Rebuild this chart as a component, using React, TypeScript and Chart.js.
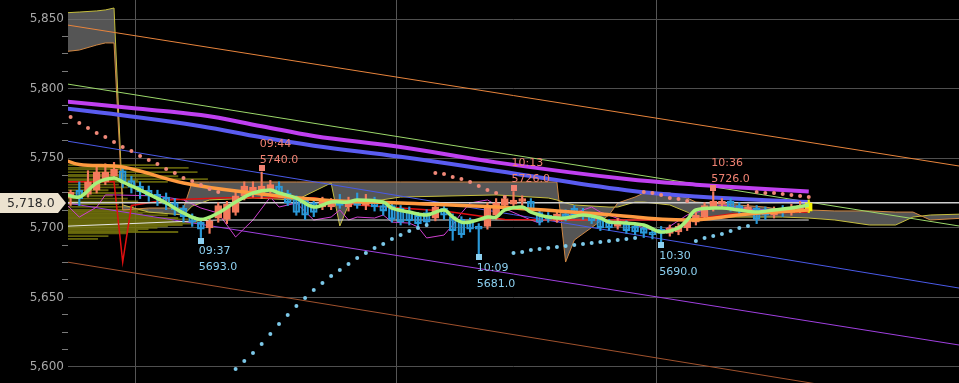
import React, { useEffect, useRef } from 'react';
import { Chart, registerables } from 'chart.js';

Chart.register(...registerables);

// ---------- DATA ----------
const candleTimes = [
  '09:22','09:23','09:24','09:25','09:26','09:27','09:28','09:29','09:30','09:31',
  '09:32','09:33','09:34','09:35','09:36','09:37','09:38','09:39','09:40','09:41',
  '09:42','09:43','09:44','09:45','09:46','09:47','09:48','09:49','09:50','09:51',
  '09:52','09:53','09:54','09:55','09:56','09:57','09:58','09:59','10:00','10:01',
  '10:02','10:03','10:04','10:05','10:06','10:07','10:08','10:09','10:10','10:11',
  '10:12','10:13','10:14','10:15','10:16','10:17','10:18','10:19','10:20','10:21',
  '10:22','10:23','10:24','10:25','10:26','10:27','10:28','10:29','10:30','10:31',
  '10:32','10:33','10:34','10:35','10:36','10:37','10:38','10:39','10:40','10:41',
  '10:42','10:43','10:44','10:45','10:46','10:47',
];
const opens = [
  5721.5, 5727, 5724, 5727, 5733, 5737, 5741, 5734, 5730, 5727,
  5724, 5722, 5718, 5714, 5708, 5704, 5700, 5707, 5706, 5711,
  5723, 5725, 5724, 5727, 5730, 5725, 5721, 5720, 5718, 5715,
  5715, 5719, 5715, 5719, 5716, 5720, 5716, 5716, 5714, 5712,
  5709, 5711, 5707, 5714, 5708, 5706, 5705, 5701, 5701, 5709,
  5716, 5717, 5719, 5719, 5711, 5709, 5706, 5710, 5714, 5710,
  5709, 5706, 5704, 5701, 5703, 5701, 5700, 5697, 5699, 5696,
  5697, 5700, 5704, 5708, 5714, 5717, 5719, 5716, 5712, 5714,
  5713, 5709, 5713, 5711, 5713, 5712,
];
const highs = [
  5727, 5733, 5741, 5744, 5746, 5747, 5744, 5737, 5733, 5730,
  5727, 5725, 5721, 5716, 5710, 5707, 5707, 5718, 5719, 5726,
  5733, 5733, 5740, 5734, 5733, 5727, 5723, 5722, 5720, 5722,
  5721, 5724, 5722, 5725, 5724, 5722, 5719, 5718, 5716, 5715,
  5711, 5713, 5717, 5716, 5710, 5708, 5707, 5703, 5718, 5721,
  5723, 5726, 5723, 5721, 5713, 5711, 5712, 5713, 5716, 5714,
  5711, 5708, 5706, 5707, 5705, 5703, 5702, 5700, 5701, 5702,
  5703, 5707, 5711, 5718, 5726, 5721, 5721, 5718, 5717, 5716,
  5715, 5715, 5716, 5717, 5719, 5720,
];
const lows = [
  5716, 5716, 5722, 5725, 5731, 5735, 5729, 5725, 5721, 5719,
  5716, 5713, 5709, 5704, 5701, 5693, 5696, 5704, 5703, 5709,
  5720, 5722, 5721, 5725, 5722, 5716, 5709, 5706, 5708, 5713,
  5713, 5714, 5712, 5714, 5713, 5712, 5709, 5704, 5702, 5702,
  5700, 5701, 5705, 5706, 5691, 5693, 5697, 5681, 5699, 5706,
  5714, 5715, 5716, 5711, 5702, 5704, 5704, 5705, 5707, 5706,
  5703, 5698, 5698, 5699, 5696, 5695, 5693, 5692, 5690, 5694,
  5695, 5698, 5702, 5706, 5712, 5714, 5712, 5710, 5710, 5703,
  5706, 5707, 5708, 5709, 5711, 5711,
];
const closes = [
  5725.5, 5721, 5733, 5740, 5740, 5742, 5733, 5729, 5726, 5723,
  5721, 5717, 5713, 5708, 5704, 5699, 5705, 5716, 5717, 5723,
  5730, 5729, 5730, 5731, 5724, 5718, 5711, 5709, 5711, 5720,
  5720, 5716, 5719, 5716, 5720, 5715, 5712, 5706, 5704, 5705,
  5703, 5704, 5715, 5709, 5698, 5695, 5699, 5699, 5716, 5718,
  5721, 5720, 5721, 5713, 5704, 5706, 5710, 5708, 5709, 5709,
  5705, 5700, 5700, 5705, 5698, 5697, 5696, 5695, 5696, 5700,
  5701, 5705, 5709, 5716, 5719, 5719, 5714, 5712, 5715, 5706,
  5709, 5713, 5711, 5714, 5716, 5718,
];
// Parabolic SAR, one value per candle
const sarValues = [
  5779.6, 5775.3, 5771.7, 5768.1, 5765.2, 5761.6, 5758.0, 5755.2, 5751.6, 5748.7,
  5745.8, 5742.2, 5739.4, 5735.8, 5733.6, 5730.7, 5727.9, 5725.7, null, 5598.6,
  5604.3, 5610.0, 5616.5, 5623.7, 5630.9, 5637.3, 5643.8, 5649.6, 5655.3, 5660.3,
  5665.4, 5669.7, 5674.0, 5678.3, 5681.9, 5685.5, 5688.4, 5692.0, 5694.8, 5697.7,
  5699.9, 5702.0, 5739.4, 5738.7, 5736.5, 5735.1, 5732.9, 5730.0, 5727.2, 5725.0,
  5722.1, 5681.9, 5682.6, 5684.0, 5684.8, 5685.5, 5686.2, 5686.9, 5687.6, 5688.4,
  5689.1, 5689.8, 5690.5, 5691.2, 5692.0, 5692.7, 5725.7, 5725.0, 5723.6, 5721.4,
  5720.7, 5719.3, 5690.5, 5692.7, 5694.1, 5695.5, 5697.7, 5699.9, 5701.3, 5725.7,
  5725.0, 5725.0, 5724.3, 5723.6, 5722.9, 5722.1,
];

const longMaTimes = ['09:21','09:29','09:37','09:44','09:50','10:00','10:11','10:26','10:34','10:47'];
const magentaMa = [5791, 5786, 5781, 5773, 5766, 5758, 5747, 5735, 5731, 5726];
const blueMa = [5786, 5780, 5773, 5765, 5759, 5751, 5741, 5727, 5722.5, 5718.5];

const orangeMaTimes = ['09:21','09:23','09:28','09:35','09:43','09:51','10:00','10:11','10:23','10:33','10:40','10:47'];
const orangeMa = [5749.5, 5745.5, 5743.7, 5732.2, 5725, 5720, 5717.8, 5714.9, 5709.9, 5705.6, 5709.9, 5712.8];

const greenMaTimes = [
  '09:21','09:23','09:25','09:27','09:28','09:30','09:33','09:35','09:37','09:39',
  '09:41','09:43','09:45','09:46','09:48','09:50','09:52','09:54','09:55','09:58',
  '09:59','10:01','10:03','10:05','10:06','10:07','10:08','10:10','10:11','10:12',
  '10:14','10:15','10:17','10:19','10:21','10:23','10:24','10:26','10:28','10:30',
  '10:32','10:33','10:34','10:37','10:39','10:41','10:43','10:45','10:47',
];
const greenMa = [
  5725, 5722.1, 5732.2, 5735.8, 5732.9, 5727.2, 5717.8, 5710.6, 5706, 5710.6,
  5718.5, 5725, 5727.2, 5725, 5721.4, 5714.9, 5718.5, 5718.5, 5720, 5718.5,
  5714.2, 5711.3, 5709.2, 5712.8, 5707.7, 5704.1, 5704.1, 5707.7, 5707.7, 5712.8,
  5714.9, 5711.3, 5707.7, 5707, 5709.2, 5707, 5704.1, 5703.4, 5702, 5697,
  5699.9, 5705.6, 5712.8, 5714.2, 5712.8, 5711.3, 5712.8, 5714.2, 5716.4,
];

const redTimes = ['09:21','09:27','09:28','09:29','09:33','09:40','09:50','09:55','10:05','10:12','10:20','10:33','10:38','10:47'];
const redValues = [5733, 5733, 5675.4, 5716, 5720, 5721.5, 5721.5, 5716.4, 5712, 5706, 5705.6, 5705.6, 5710, 5711.3];

const pinkTimes = [
  '09:21','09:23','09:25','09:26','09:27','09:32','09:35','09:37','09:39','09:41',
  '09:43','09:45','09:46','09:48','09:50','09:52','09:53','09:54','09:55','09:57',
  '09:58','09:59','10:01','10:02','10:03','10:05','10:06','10:07','10:08','10:10',
  '10:11','10:15','10:16','10:17','10:18','10:20','10:21','10:22','10:23','10:28',
  '10:30','10:33','10:37','10:41','10:47',
];
const pinkValues = [
  5720, 5707.7, 5714.9, 5723.6, 5723.6, 5722.9, 5720, 5714.2, 5710.6, 5693.4,
  5705.6, 5722.1, 5714.9, 5717.8, 5705.6, 5707.7, 5712.8, 5705.6, 5707.7, 5707,
  5709.2, 5704.1, 5703.4, 5700.6, 5692.7, 5694.8, 5702, 5710.6, 5717.8, 5720,
  5716.4, 5705.6, 5703.4, 5707.7, 5704.1, 5710.6, 5712.8, 5714.9, 5711.3, 5699.9,
  5697, 5709.2, 5716.4, 5712.8, 5714.9,
];

const whiteTimes = ['09:21','09:39','10:47'];
const whiteValues = [5701, 5705.6, 5705.6];

const cloudTimes = [
  '09:21','09:23','09:25','09:26','09:27','09:28','09:31','09:35','09:36','09:38',
  '09:43','09:48','09:52','09:53','09:54','10:00','10:11','10:17','10:18','10:19',
  '10:20','10:24','10:25','10:27','10:28','10:31','10:33','10:34','10:42','10:44',
  '10:47','10:50','10:54','10:57','10:59','11:01','11:05',
];
const spanA = [
  5854.3, 5855.0, 5855.8, 5856.5, 5857.9, 5716.4, 5711.3, 5709.2, 5715.6, 5720.0,
  5721.4, 5720.0, 5732.2, 5701.3, 5716.4, 5722.1, 5723.6, 5721.4, 5720.0, 5717.8,
  5716.4, 5714.9, 5714.9, 5718.5, 5718.5, 5716.4, 5711.3, 5707.7, 5707.7, 5707.7,
  5707.0, 5705.6, 5702.0, 5702.0, 5707.7, 5709.2, 5709.9,
];
const spanB = [
  5826.3, 5827.7, 5831.3, 5832.8, 5832.8, 5712.8, 5714.2, 5714.2, 5732.9, 5732.9,
  5732.9, 5732.9, 5732.9, 5732.9, 5732.9, 5732.9, 5732.9, 5732.9, 5732.9, 5675.4,
  5691.2, 5709.2, 5717.8, 5722.1, 5725.0, 5725.0, 5721.4, 5718.5, 5714.9, 5712.8,
  5712.8, 5712.1, 5712.1, 5711.3, 5711.3, 5705.6, 5707.0,
];

const channelTimes = ['09:21', '11:05'];
const orangeChannel = [5846.3, 5743.7];
const greenChannel = [5803.9, 5700.6];
const blueChannel = [5762.9, 5656.0];
const purpleChannel = [5718.4, 5615.1];
const brownChannel = [5676.0, 5570.5];

const vpPrices = [
  5745, 5743, 5742, 5740, 5738, 5737, 5735, 5734, 5733, 5731,
  5729, 5727, 5725, 5723, 5721, 5719, 5717, 5715, 5713, 5712,
  5711, 5710, 5709, 5708, 5707, 5706, 5705, 5704, 5703, 5702,
  5701, 5700, 5699, 5698, 5697, 5696, 5694, 5692,
];
const vpVolumes = [
  600, 810, 400, 870, 540, 740, 940, 470, 670, 340,
  400, 270, 370, 300, 400, 470, 340, 440, 540, 470,
  640, 500, 670, 570, 740, 810, 710, 870, 840, 770,
  670, 600, 540, 470, 740, 400, 270, 200,
];

const highTimes = ['09:44', '10:13', '10:36'];
const highPrices = [5740, 5726, 5726];
const lowTimes = ['09:37', '10:09', '10:30'];
const lowPrices = [5693, 5681, 5690];

const currentPrice = 5718;

// ---------- HELPERS ----------
const toX = (t: string) => {
  const [h, m] = t.split(':').map(Number);
  return h * 60 + m - 570 + 0.5;
};
const pts = (times: string[], vals: (number | null)[]) => times.map((t, i) => ({ x: toX(t), y: vals[i] }));

const UP = '#f47a5c';
const DOWN = '#2a98d8';
const LAST = '#f2f200';
const HIGH_TXT = '#f08272';
const LOW_TXT = '#8cd0f0';
const FONT = '"DejaVu Sans", "Liberation Sans", sans-serif';

const candleColor = (i: number) =>
  i === candleTimes.length - 1 ? LAST : closes[i] >= opens[i] ? UP : DOWN;

const line = (data: any[], color: string, width: number, order: number, extra: any = {}) => ({
  type: 'line',
  data,
  borderColor: color,
  borderWidth: width,
  pointRadius: 0,
  fill: false,
  tension: 0,
  order,
  ...extra,
});

const overlayPlugin = {
  id: 'overlay',
  afterDatasetsDraw(chart: any) {
    const { ctx, scales } = chart;
    const x = scales.x;
    const y = scales.y;
    ctx.save();
    ctx.font = `11px ${FONT}`;
    ctx.textBaseline = 'middle';
    ctx.textAlign = 'left';
    highTimes.forEach((t, i) => {
      const px = x.getPixelForValue(toX(t));
      const py = y.getPixelForValue(highPrices[i]);
      ctx.fillStyle = HIGH_TXT;
      ctx.fillRect(Math.round(px) - 3, Math.round(py) - 7, 6, 6);
      ctx.fillText(t, px - 2, py - 28);
      ctx.fillText(highPrices[i].toFixed(1), px - 2, py - 12);
    });
    lowTimes.forEach((t, i) => {
      const px = x.getPixelForValue(toX(t));
      const py = y.getPixelForValue(lowPrices[i]);
      ctx.fillStyle = LOW_TXT;
      ctx.fillRect(Math.round(px) - 3, Math.round(py), 6, 6);
      ctx.fillText(t, px - 2, py + 14);
      ctx.fillText(lowPrices[i].toFixed(1), px - 2, py + 30);
    });
    ctx.restore();
  },
  afterDraw(chart: any) {
    const { ctx, scales } = chart;
    const py = Math.round(scales.y.getPixelForValue(currentPrice));
    ctx.save();
    ctx.fillStyle = '#ece2cf';
    ctx.beginPath();
    ctx.moveTo(0, py - 10);
    ctx.lineTo(58, py - 10);
    ctx.lineTo(66, py);
    ctx.lineTo(58, py + 10);
    ctx.lineTo(0, py + 10);
    ctx.closePath();
    ctx.fill();
    ctx.fillStyle = '#2a2a2a';
    ctx.font = `12.5px ${FONT}`;
    ctx.textBaseline = 'middle';
    ctx.textAlign = 'left';
    ctx.fillText(
      currentPrice.toLocaleString('en-US', { minimumFractionDigits: 1, maximumFractionDigits: 1 }),
      7,
      py + 0.5
    );
    ctx.restore();
  },
};

export default function App() {
  const ref = useRef<HTMLCanvasElement>(null);

  useEffect(() => {
    if (!ref.current) return;
    const datasets: any[] = [
      // volume profile
      {
        type: 'bar',
        indexAxis: 'y',
        xAxisID: 'xv',
        yAxisID: 'y',
        data: vpPrices.map((p, i) => ({ x: vpVolumes[i], y: p })),
        backgroundColor: 'rgba(120,120,14,0.8)',
        barThickness: 1.2,
        grouped: false,
        order: 100,
      },
      // cloud
      line(pts(cloudTimes, spanA), '#c6be3e', 1, 95, { fill: '+1', backgroundColor: 'rgba(118,118,118,0.72)' }),
      line(pts(cloudTimes, spanB), '#cf8743', 1, 94),
      // channel lines
      line(pts(channelTimes, orangeChannel), '#e8843c', 1, 90),
      line(pts(channelTimes, greenChannel), '#9cd86a', 1, 90),
      line(pts(channelTimes, blueChannel), '#4a5ae8', 1, 90),
      line(pts(channelTimes, purpleChannel), '#a040e0', 1, 90),
      line(pts(channelTimes, brownChannel), '#a0522d', 1, 90),
      // thin indicators
      line(pts(pinkTimes, pinkValues), '#d040d0', 1, 80),
      line(pts(whiteTimes, whiteValues), '#e6e6e6', 1, 79),
      line(pts(redTimes, redValues), '#e01010', 1.5, 78),
      // long MAs
      line(pts(longMaTimes, magentaMa), '#c040f0', 4, 70, { tension: 0.4 }),
      line(pts(longMaTimes, blueMa), '#5a5cf0', 4, 69, { tension: 0.4 }),
      // current price line
      line(pts(channelTimes, [currentPrice, currentPrice]), '#cfcfcf', 1.5, 60),
      // candle wicks
      {
        type: 'bar',
        data: candleTimes.map((t, i) => ({ x: toX(t), y: [lows[i], highs[i]] })),
        backgroundColor: candleTimes.map((_, i) => candleColor(i)),
        barThickness: 1.5,
        grouped: false,
        order: 50,
      },
      // candle bodies
      {
        type: 'bar',
        data: candleTimes.map((t, i) => ({ x: toX(t), y: [opens[i], closes[i]] })),
        backgroundColor: candleTimes.map((_, i) =>
          candleColor(i) === DOWN ? 'rgba(0,0,0,0)' : candleColor(i)
        ),
        borderColor: candleTimes.map((_, i) => candleColor(i)),
        borderWidth: 1.5,
        borderSkipped: false,
        barThickness: 7,
        minBarLength: 2,
        grouped: false,
        order: 49,
      },
      // short MAs
      line(pts(orangeMaTimes, orangeMa), '#ff9a40', 3.5, 30, { tension: 0.4 }),
      line(pts(greenMaTimes, greenMa), '#a6f07a', 3.5, 25, { tension: 0.35 }),
      // SAR dots
      {
        type: 'line',
        data: pts(candleTimes, sarValues),
        showLine: false,
        pointRadius: 2,
        pointBorderWidth: 0,
        pointBackgroundColor: candleTimes.map((_, i) =>
          sarValues[i] !== null && (sarValues[i] as number) > closes[i] ? '#f08878' : '#7cc8e8'
        ),
        order: 10,
      },
    ];

    const chart = new Chart(ref.current, {
      type: 'line',
      data: { datasets },
      options: {
        animation: false,
        responsive: false,
        devicePixelRatio: 1,
        events: [],
        layout: { padding: 0, autoPadding: false },
        plugins: { legend: { display: false }, tooltip: { enabled: false } },
        scales: {
          x: {
            type: 'linear',
            position: 'bottom',
            min: -7.8,
            max: 94.8,
            offset: false,
            afterBuildTicks: (s: any) => {
              s.ticks = [0, 30, 60].map((v) => ({ value: v }));
            },
            afterFit: (s: any) => {
              s.height = 0;
              s.paddingLeft = 0;
              s.paddingRight = 0;
              s.paddingTop = 0;
              s.paddingBottom = 0;
            },
            grid: { color: '#555555', lineWidth: 1, drawTicks: false, offset: false },
            border: { display: false },
            ticks: { display: false },
          },
          xv: {
            type: 'linear',
            axis: 'x',
            position: 'bottom',
            display: false,
            offset: false,
            min: 0,
            max: 6000,
          },
          y: {
            type: 'linear',
            position: 'left',
            min: 5588.5,
            max: 5863.65,
            offset: false,
            afterBuildTicks: (s: any) => {
              const t: any[] = [];
              for (let v = 5600; v <= 5850; v += 12.5) t.push({ value: v });
              s.ticks = t;
            },
            afterFit: (s: any) => {
              s.width = 68;
              s.paddingTop = 0;
              s.paddingBottom = 0;
              s.paddingLeft = 0;
              s.paddingRight = 0;
            },
            grid: {
              offset: false,
              color: (c: any) => (c.tick && c.tick.value % 50 === 0 ? '#4f4f4f' : 'rgba(0,0,0,0)'),
              tickColor: (c: any) => (c.tick && c.tick.value % 50 === 0 ? 'rgba(0,0,0,0)' : '#7a7a7a'),
              tickLength: 6,
              drawTicks: true,
              lineWidth: 1,
            },
            border: { display: false },
            ticks: {
              autoSkip: false,
              padding: -2,
              color: '#a8a8a8',
              font: { family: FONT, size: 12 },
              callback: (v: any) => (Number(v) % 50 === 0 ? Number(v).toLocaleString('en-US') : ''),
            },
          },
        },
      } as any,
      plugins: [overlayPlugin],
    } as any);
    return () => chart.destroy();
  }, []);

  return (
    <div style={{ position: 'fixed', left: 0, top: 0, width: 959, height: 383, background: '#000', overflow: 'hidden' }}>
      <canvas ref={ref} width={959} height={383} style={{ display: 'block', width: 959, height: 383 }} />
    </div>
  );
}
